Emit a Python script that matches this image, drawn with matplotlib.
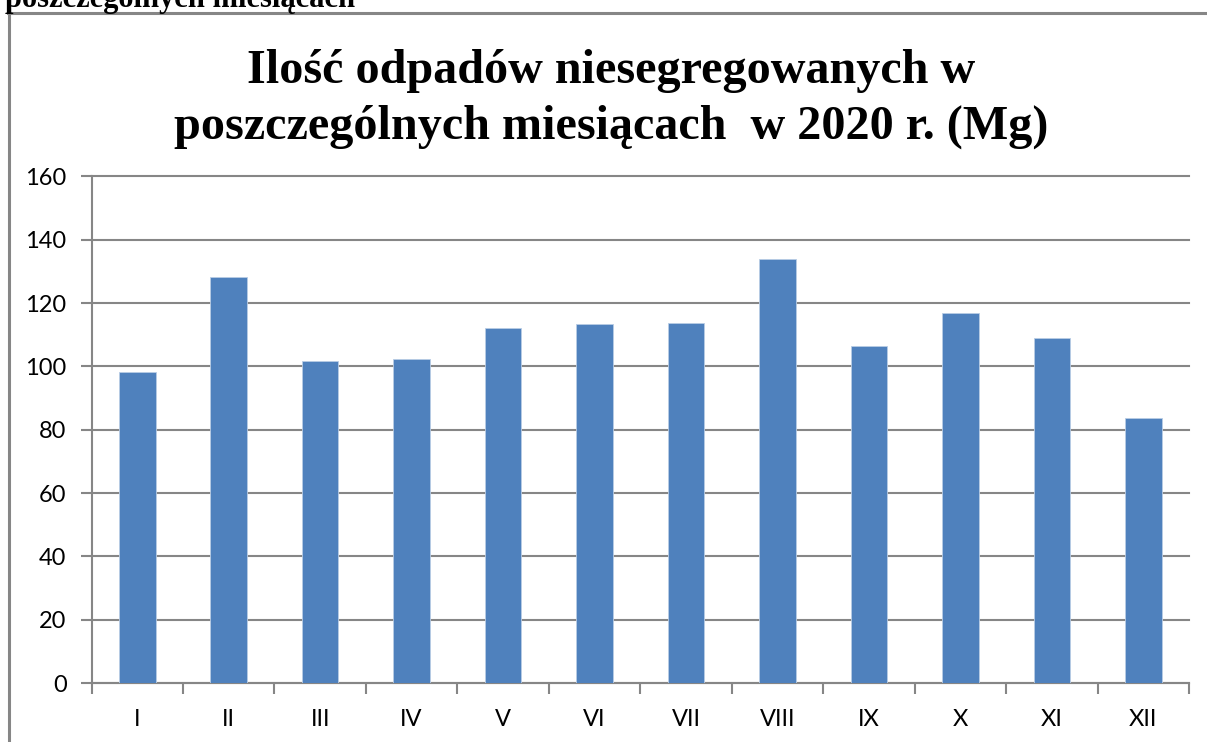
import matplotlib
matplotlib.use("Agg")
import matplotlib.pyplot as plt
from matplotlib.lines import Line2D
import numpy as np

months = ["I", "II", "III", "IV", "V", "VI", "VII", "VIII", "IX", "X", "XI", "XII"]
values = [98.2, 128.2, 101.7, 102.5, 112.2, 113.3, 113.7, 134.0, 106.3, 117.0, 109.1, 83.6]
y_ticks = [0, 20, 40, 60, 80, 100, 120, 140, 160]
title = "Ilość odpadów niesegregowanych w\nposzczególnych miesiącach  w 2020 r. (Mg)"
top_text = "poszczególnych miesiącach"

W, H = 1207, 742
fig = plt.figure(figsize=(W / 100, H / 100), dpi=100)
fig.patch.set_facecolor("white")

grey = "#868686"
# chart border (left and top)
fig.add_artist(Line2D([8.5 / W, 8.5 / W], [0, 1 - 13 / H], color=grey, lw=2.2))
fig.add_artist(Line2D([8 / W, 1], [1 - 13 / H, 1 - 13 / H], color=grey, lw=2.2))

# cut-off text at top
fig.text(5 / W, 1 - 7 / H, top_text, fontsize=22, fontweight="bold",
         family="Liberation Serif", ha="left", va="baseline")

left, right, top, bottom = 91.5, 1189, 176.5, 683
ax = fig.add_axes([left / W, 1 - bottom / H, (right - left) / W, (bottom - top) / H])

x = np.arange(len(months))
ax.bar(x, values, width=0.4, color="#4F81BD", edgecolor="#B9CDE5", linewidth=0.6, zorder=3)

ax.set_xlim(-0.5, len(months) - 0.5)
ax.set_ylim(0, 160)
ax.set_yticks(y_ticks)
ax.set_yticklabels([str(v) for v in y_ticks], family="Lato", fontsize=17)
ax.set_xticks(x)
ax.set_xticklabels(months, family="Lato", fontsize=17)
ax.set_xticks(np.arange(-0.5, len(months)), minor=True)
ax.tick_params(axis="x", which="major", length=0, pad=19)
ax.tick_params(axis="x", which="minor", length=8, width=1.5, color=grey, direction="out")
ax.tick_params(axis="y", length=8, width=1.5, color=grey, direction="out", pad=10)

ax.yaxis.grid(True, color=grey, lw=1.5, zorder=0)
for gl in ax.get_ygridlines():
    gl.set_clip_on(False)
ax.set_axisbelow(True)
for s in ["top", "right"]:
    ax.spines[s].set_visible(False)
for s in ["left", "bottom"]:
    ax.spines[s].set_color(grey)
    ax.spines[s].set_linewidth(1.5)

fig.text(611 / W, 1 - 99 / H, title, ha="center", va="center",
         fontsize=34.7, fontweight="bold", family="Liberation Serif", linespacing=1.37)

fig.savefig("out.png", dpi=100, facecolor="white")
